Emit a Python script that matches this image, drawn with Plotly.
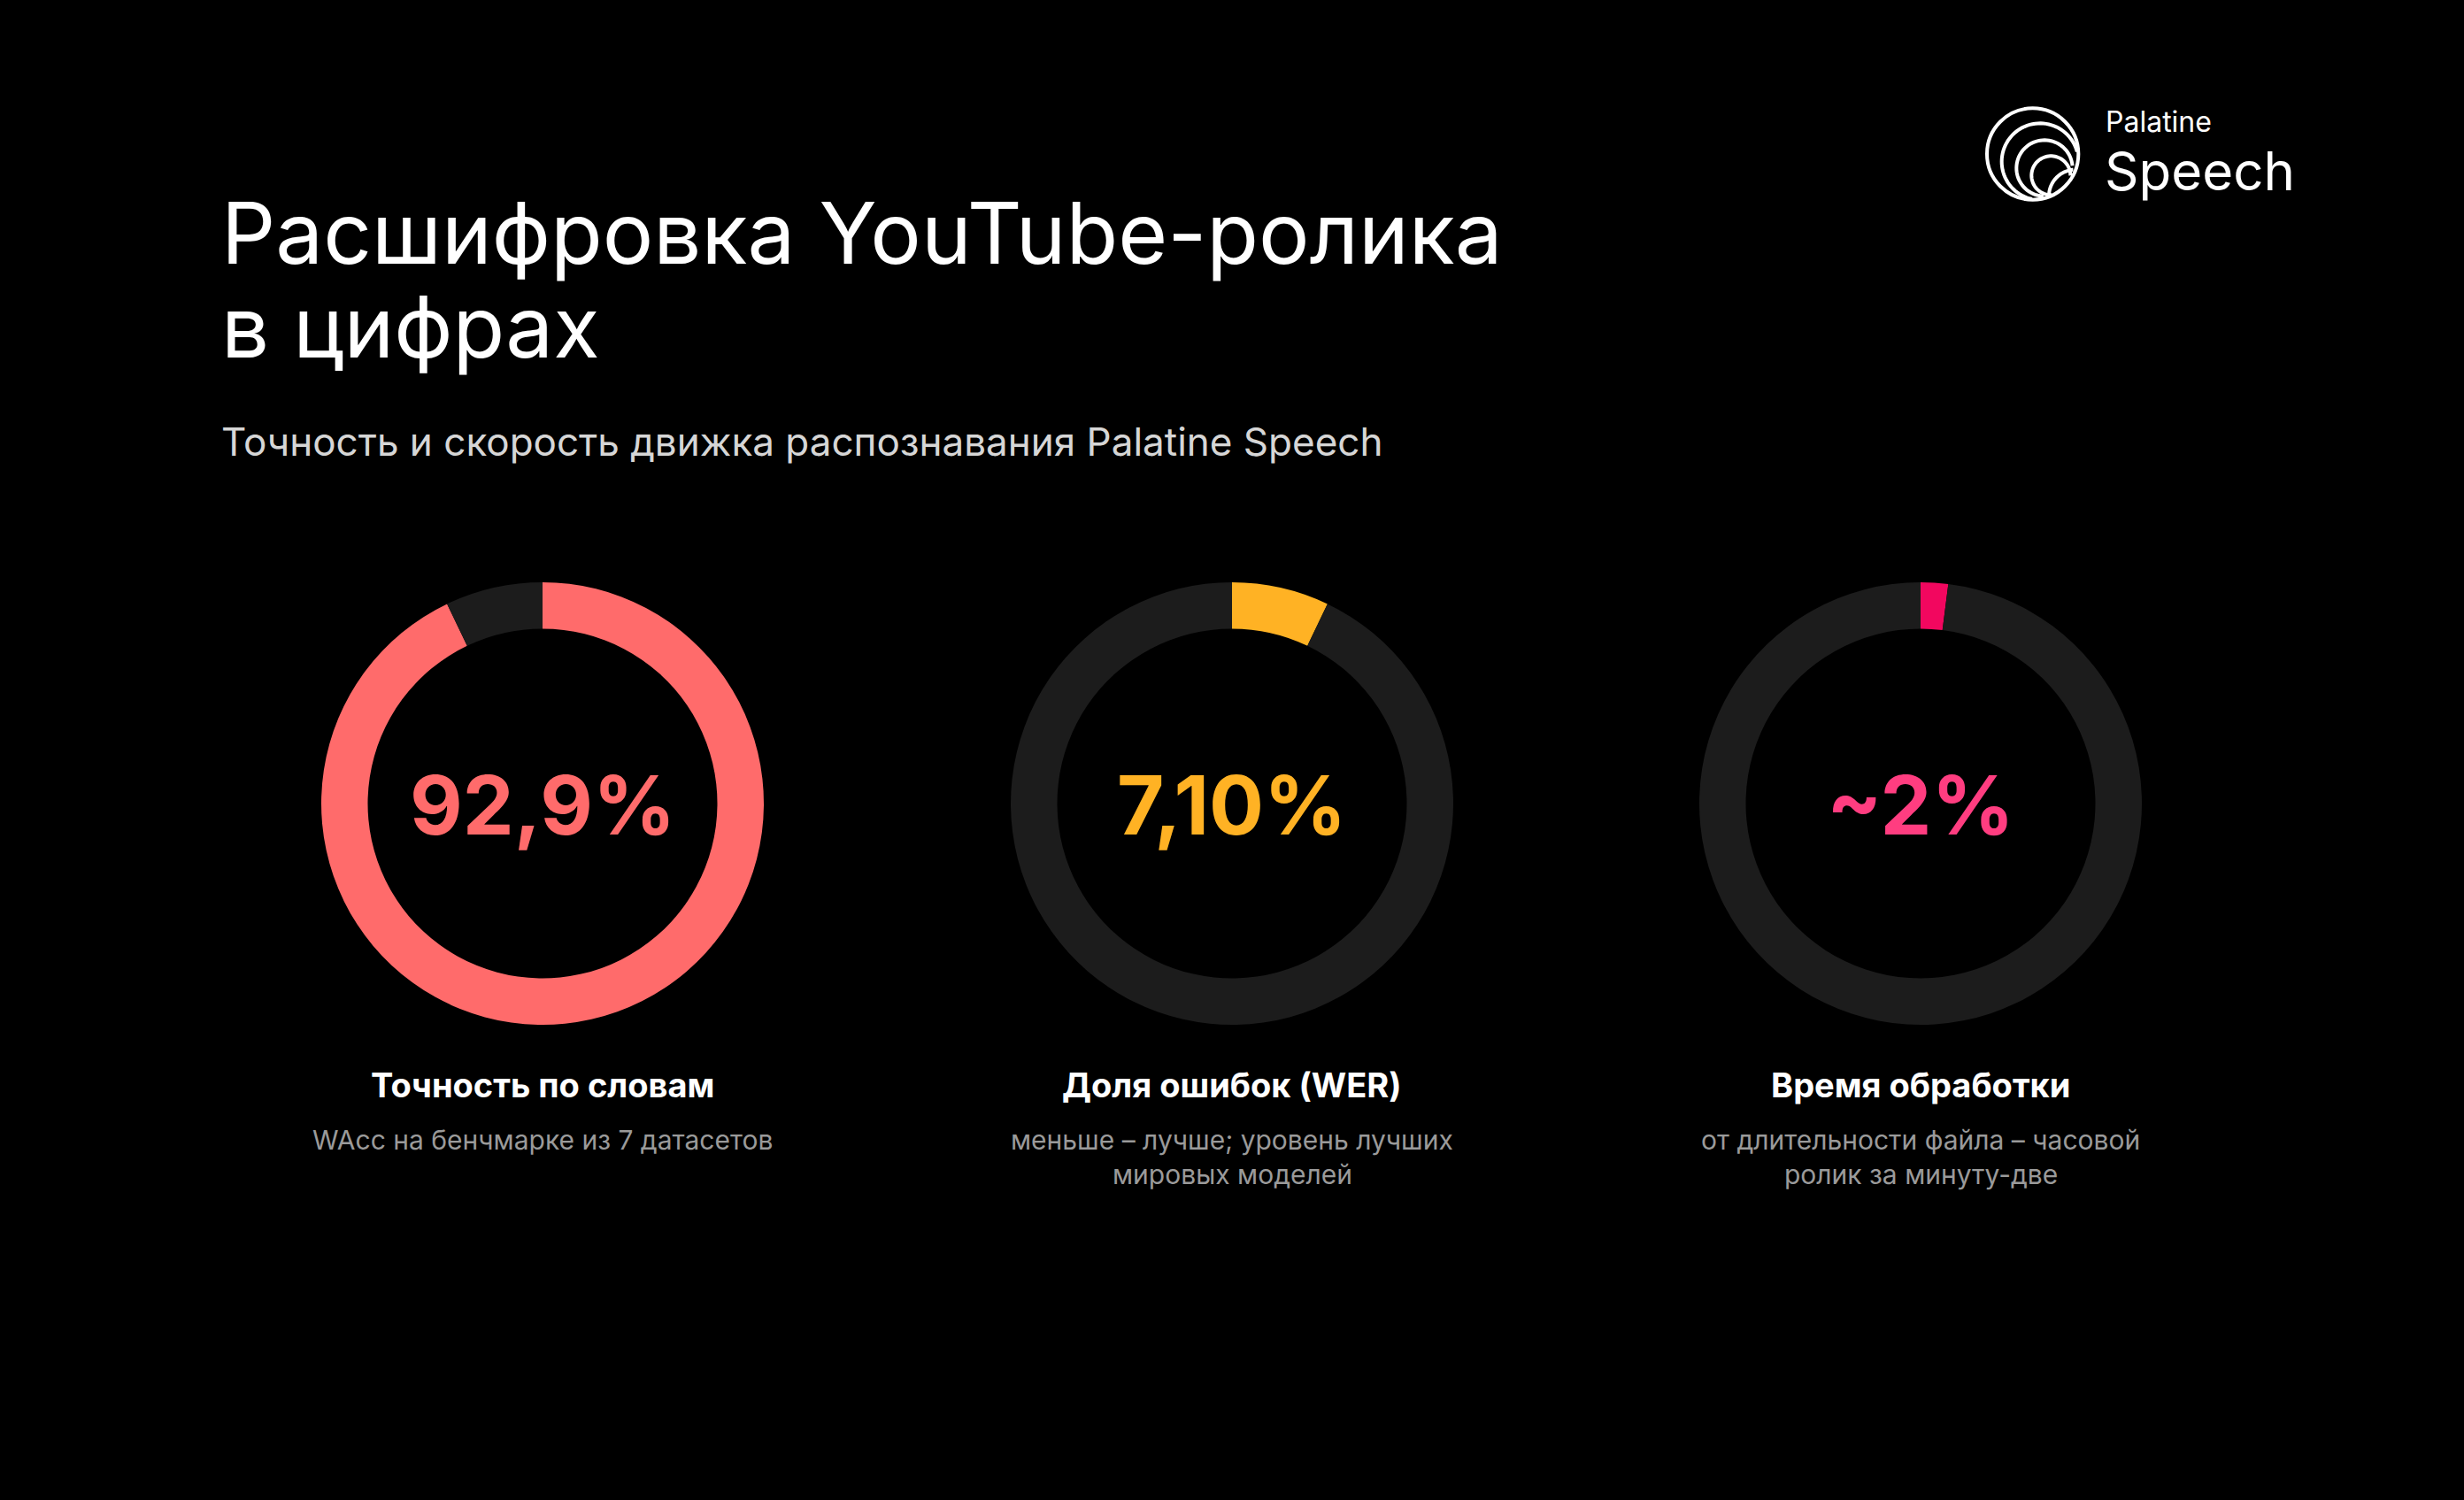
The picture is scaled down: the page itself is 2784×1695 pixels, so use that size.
import numpy as np
import plotly.graph_objects as go

W, H = 2784, 1695

# ---- data ----
metric_names = ["Точность по словам", "Доля ошибок (WER)", "Время обработки"]
metric_values = [92.9, 7.10, 2.0]
value_labels = ["92,9%", "7,10%", "~2%"]
descriptions = [
    ["WAcc на бенчмарке из 7 датасетов"],
    ["меньше – лучше; уровень лучших", "мировых моделей"],
    ["от длительности файла – часовой", "ролик за минуту-две"],
]
ring_colors = ["#FF6B6B", "#FFB224", "#F2075F"]
text_colors = ["#FF6B6B", "#FFB224", "#FF3D80"]
track_color = "#1C1C1C"

title_lines = ["Расшифровка YouTube-ролика", "в цифрах"]
subtitle = "Точность и скорость движка распознавания Palatine Speech"

# ---- layout constants (pixels) ----
centers_x = [613, 1392, 2170]
center_y = 908
R = 250
FONT = "Inter, 'Noto Sans', sans-serif"

fig = go.Figure()

for i, v in enumerate(metric_values):
    cx = centers_x[i]
    fig.add_trace(go.Pie(
        values=[v, 100 - v],
        marker=dict(colors=[ring_colors[i], track_color], line=dict(width=0)),
        hole=0.79,
        sort=False,
        direction="clockwise",
        rotation=0,
        textinfo="none",
        hoverinfo="skip",
        showlegend=False,
        domain=dict(x=[(cx - R) / W, (cx + R) / W],
                    y=[1 - (center_y + R) / H, 1 - (center_y - R) / H]),
    ))

# invisible pixel axes for annotations / logo
fig.add_trace(go.Scatter(x=[0, W], y=[0, H], mode="markers",
                         marker=dict(opacity=0), hoverinfo="skip", showlegend=False))

ann = []
def add_text(x, y, text, size, color, weight=400, xanchor="left"):
    ann.append(dict(x=x, y=y, xref="x", yref="y", text=text, showarrow=False,
                    xanchor=xanchor, yanchor="middle", borderpad=0,
                    font=dict(family=FONT, size=size, color=color, weight=weight)))

add_text(249, 263, title_lines[0], 96, "#FFFFFF")
add_text(249, 369, title_lines[1], 96, "#FFFFFF")
add_text(249, 499, subtitle, 44, "#D6D6D6")

for i in range(3):
    cx = centers_x[i]
    add_text(cx, 909, value_labels[i], 92, text_colors[i], weight=700, xanchor="center")
    add_text(cx, 1226, metric_names[i], 38, "#FFFFFF", weight=700, xanchor="center")
    for j, line in enumerate(descriptions[i]):
        add_text(cx, 1288 + 39 * j, line, 30, "#9A9A9A", xanchor="center")

# logo text
add_text(2378, 137, "Palatine", 32, "#FFFFFF")
add_text(2377, 193, "Speech", 60, "#FFFFFF")

# logo icon (decorative)
shapes = []
ox, oy = 2230, 110
c = (ox + 200 / 3, oy + 192 / 3)
rr = 155 / 3
shapes.append(dict(type="circle", xref="x", yref="y",
                   x0=c[0] - rr, x1=c[0] + rr, y0=c[1] - rr, y1=c[1] + rr,
                   line=dict(color="#FFFFFF", width=4)))

def arc(cxz, cyz, rz, a0, a1):
    th = np.radians(np.linspace(a0, a1, 60))
    xs = ox + (cxz + rz * np.cos(th)) / 3
    ys = oy + (cyz + rz * np.sin(th)) / 3
    return "M " + " L ".join(f"{x:.2f},{y:.2f}" for x, y in zip(xs, ys))

for (cxz, cyz, rz, a0, a1) in [(225, 218, 130, -15, -258),
                                (240, 240, 95, -5, -268),
                                (262, 265, 66, 0, -272),
                                (345, 335, 90, -95, -178)]:
    shapes.append(dict(type="path", xref="x", yref="y", path=arc(cxz, cyz, rz, a0, a1),
                       line=dict(color="#FFFFFF", width=4)))

fig.update_layout(
    width=W, height=H,
    margin=dict(l=0, r=0, t=0, b=0),
    paper_bgcolor="#000000", plot_bgcolor="#000000",
    xaxis=dict(range=[0, W], visible=False, fixedrange=True, domain=[0, 1]),
    yaxis=dict(range=[H, 0], visible=False, fixedrange=True, domain=[0, 1]),
    annotations=ann,
    shapes=shapes,
    showlegend=False,
)

fig.write_html("out.html")
